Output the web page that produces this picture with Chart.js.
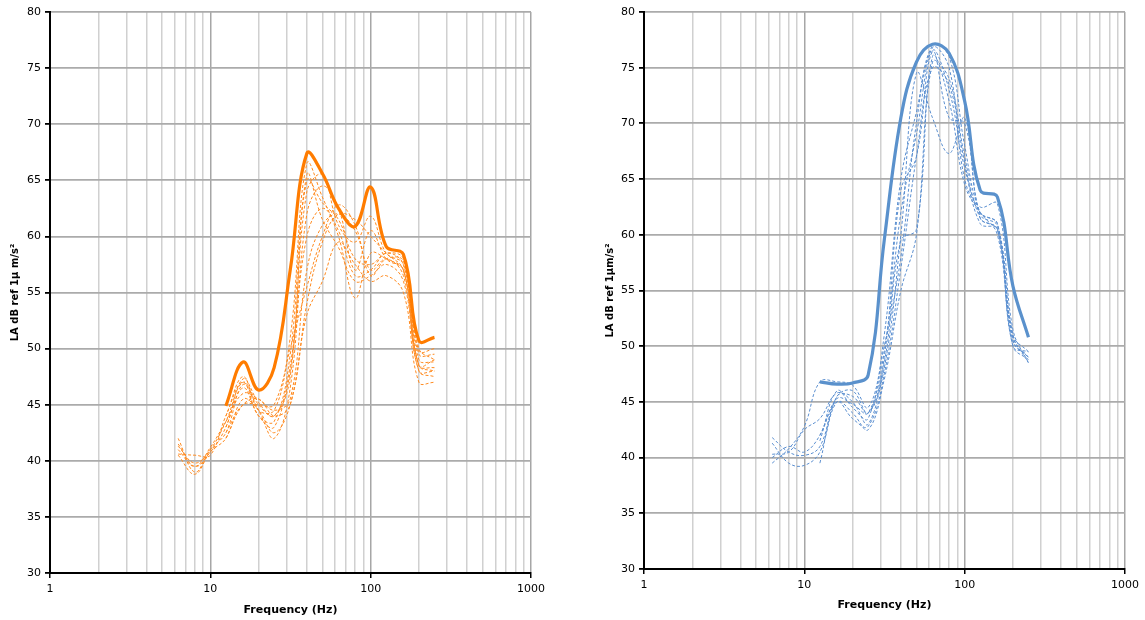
<!DOCTYPE html>
<html>
<head>
<meta charset="utf-8">
<script src="https://cdn.jsdelivr.net/npm/chart.js@4"></script>
<style>
body { margin: 0; background: #fff; }
#left { position: absolute; left: 0; top: 0; }
#right { position: absolute; left: 572px; top: 0; }
</style>
</head>
<body>
<canvas id="left" width="572" height="620"></canvas>
<canvas id="right" width="573" height="620"></canvas>
<script>
// 1/3 octave band centre frequencies (Hz)
const bands = [6.3, 8, 10, 12.5, 16, 20, 25, 31.5, 40, 50, 63, 80, 100, 125, 160, 200, 250];

// left chart (orange): envelope + individual runs
const orangeMax = [null, null, null, 44.9, 48.8, 46.3, 48.3, 57.0, 67.4, 65.6, 62.5, 60.9, 64.4, 59.1, 58.4, 50.7, 51.0];
const orangeRuns = [
    [41.5, 39.5, 40.8, 43.0, 47.3, 45.2, 44.0, 48.0, 64.0, 65.5, 61.0, 59.5, 61.8, 58.5, 57.5, 49.5, 49.5],
    [42.0, 39.0, 41.0, 42.5, 46.8, 44.5, 42.0, 46.5, 62.0, 64.5, 62.5, 57.0, 60.5, 58.0, 57.0, 48.5, 48.3],
    [40.6, 40.5, 40.5, 44.0, 47.0, 44.0, 43.5, 49.5, 65.0, 63.0, 61.5, 58.0, 57.5, 58.5, 58.0, 50.0, 49.0],
    [41.0, 39.5, 41.2, 43.5, 46.0, 45.5, 44.5, 45.5, 57.0, 61.0, 62.0, 60.5, 57.0, 58.0, 56.5, 48.0, 48.0],
    [40.5, 38.8, 40.8, 42.0, 45.5, 44.5, 42.5, 45.0, 53.0, 56.0, 59.5, 57.5, 56.0, 56.5, 55.0, 47.0, 47.0],
    [null, null, null, 42.5, 45.0, 45.0, 45.0, 51.0, 66.5, 63.5, 60.0, 54.5, 58.5, 58.0, 57.0, 48.5, 48.0],
    [null, null, null, 43.0, 46.5, 44.0, 43.0, 48.5, 60.0, 62.5, 60.5, 56.5, 57.0, 58.5, 57.5, 49.0, 48.8],
    [41.3, 39.8, 41.0, 43.5, 47.0, 45.0, 44.0, 47.5, 65.5, 61.5, 59.0, 56.0, 56.5, 57.5, 56.0, 48.0, 47.5],
    [null, null, null, 44.0, 47.5, 44.5, 44.5, 50.0, 55.5, 60.0, 62.8, 61.0, 56.5, 58.0, 57.8, 49.8, 50.0],
    [null, null, null, 42.0, 45.0, 45.5, 44.0, 45.0, 54.0, 59.5, 62.0, 61.5, 60.0, 58.5, 57.0, 48.5, 49.0]
];

// right chart (blue)
const blueMax = [null, null, null, 46.8, 46.6, 46.7, 47.4, 59.5, 70.5, 75.5, 77.1, 76.3, 72.0, 64.0, 63.4, 55.4, 50.8];
const blueRuns = [
    [41.8, 40.5, 40.2, 41.0, 45.5, 46.0, 44.0, 48.0, 60.0, 74.5, 70.5, 67.3, 70.5, 61.5, 60.5, 51.0, 49.5],
    [40.3, 40.5, 42.5, 43.5, 45.8, 45.0, 43.0, 49.0, 64.0, 67.0, 76.5, 73.0, 66.0, 62.0, 61.0, 50.5, 49.0],
    [39.5, 40.8, 42.8, 46.8, 46.8, 46.5, 44.5, 50.0, 58.0, 70.0, 76.8, 75.0, 65.0, 62.5, 62.8, 51.5, 48.5],
    [41.3, 39.5, 39.3, 40.5, 45.0, 44.0, 42.5, 47.0, 55.0, 60.0, 75.5, 74.0, 67.0, 61.5, 60.5, 50.0, 48.8],
    [null, null, null, 39.5, 45.5, 45.5, 44.0, 48.5, 59.5, 60.5, 76.0, 72.0, 64.5, 62.0, 60.0, 50.5, 49.0],
    [null, null, null, 41.5, 46.0, 44.5, 43.5, 51.0, 65.0, 71.0, 77.0, 76.0, 68.0, 62.0, 61.0, 51.0, 48.5],
    [null, null, null, 42.0, 45.0, 43.5, 42.8, 47.5, 57.0, 67.0, 75.0, 73.5, 66.5, 61.0, 60.5, 50.0, 49.5],
    [40.0, 41.0, 40.5, 42.0, 45.3, 44.8, 44.0, 49.5, 62.0, 69.0, 76.5, 70.5, 70.0, 61.8, 60.8, 50.8, 49.0]
];

const xGridValues = [1, 2, 3, 4, 5, 6, 7, 8, 9, 10, 20, 30, 40, 50, 60, 70, 80, 90,
                     100, 200, 300, 400, 500, 600, 700, 800, 900, 1000];
const xLabelValues = [1, 10, 100, 1000];

function points(vals) {
    return bands.map((f, i) => ({ x: f, y: vals[i] })).filter(p => p.y !== null);
}

function makeChart(id, maxVals, runs, color, dashColor, yTitle, lay) {
    const datasets = [{
        data: points(maxVals),
        borderColor: color,
        borderWidth: 3.2,
        pointRadius: 0,
        tension: 0.4,
        fill: false
    }];
    runs.forEach(r => {
        datasets.push({
            data: points(r),
            borderColor: dashColor,
            borderWidth: 1,
            borderDash: [3, 2],
            pointRadius: 0,
            tension: 0.4,
            fill: false
        });
    });

    const ctx = document.getElementById(id).getContext('2d');
    return new Chart(ctx, {
        type: 'line',
        data: { datasets: datasets },
        options: {
            responsive: false,
            animation: false,
            layout: { padding: { left: lay.padLeft, right: lay.padRight, top: 12, bottom: 0 } },
            plugins: { legend: { display: false }, tooltip: { enabled: false } },
            scales: {
                x: {
                    type: 'logarithmic',
                    min: 1,
                    max: 1000,
                    afterBuildTicks: scale => { scale.ticks = xGridValues.map(v => ({ value: v })); },
                    afterFit: scale => { scale.height = lay.xHeight; },
                    border: { color: '#000', width: 2 },
                    grid: {
                        color: c => xLabelValues.includes(c.tick && c.tick.value) ? '#a6a6a6' : '#d0d0d0',
                        lineWidth: 1.5,
                        tickLength: 5,
                        tickColor: c => xLabelValues.includes(c.tick && c.tick.value) ? '#000' : 'rgba(0,0,0,0)'
                    },
                    ticks: {
                        autoSkip: false,
                        maxRotation: 0,
                        padding: 5,
                        color: '#000',
                        font: { family: 'DejaVu Sans', size: 11 },
                        callback: v => xLabelValues.includes(v) ? String(v) : ''
                    },
                    title: {
                        display: true,
                        text: 'Frequency (Hz)',
                        color: '#000',
                        font: { family: 'DejaVu Sans', size: 11, weight: 'bold' },
                        padding: { top: 0, bottom: lay.xTitlePad }
                    }
                },
                y: {
                    min: 30,
                    max: 80,
                    afterFit: scale => { scale.width = lay.yWidth; },
                    border: { color: '#000', width: 2 },
                    grid: { color: '#ababab', lineWidth: 1.8, tickLength: 5, tickColor: '#000' },
                    ticks: {
                        stepSize: 5,
                        padding: 4,
                        color: '#000',
                        font: { family: 'DejaVu Sans', size: 11 }
                    },
                    title: {
                        display: true,
                        text: yTitle,
                        color: '#000',
                        font: { family: 'DejaVu Sans', size: 10, weight: 'bold' },
                        padding: { top: 9, bottom: 0 }
                    }
                }
            }
        }
    });
}

makeChart('left', orangeMax, orangeRuns, '#ff7c00', '#ff8a1f', 'LA dB ref 1\u03bc m/s\u00b2',
    { padLeft: 0, padRight: 41, yWidth: 50, xHeight: 47, xTitlePad: 3 });
makeChart('right', blueMax, blueRuns, '#5a91cc', '#5b8fd0', 'LA dB ref 1\u03bcm/s\u00b2',
    { padLeft: 23, padRight: 20, yWidth: 49, xHeight: 51, xTitlePad: 8 });
</script>
</body>
</html>
